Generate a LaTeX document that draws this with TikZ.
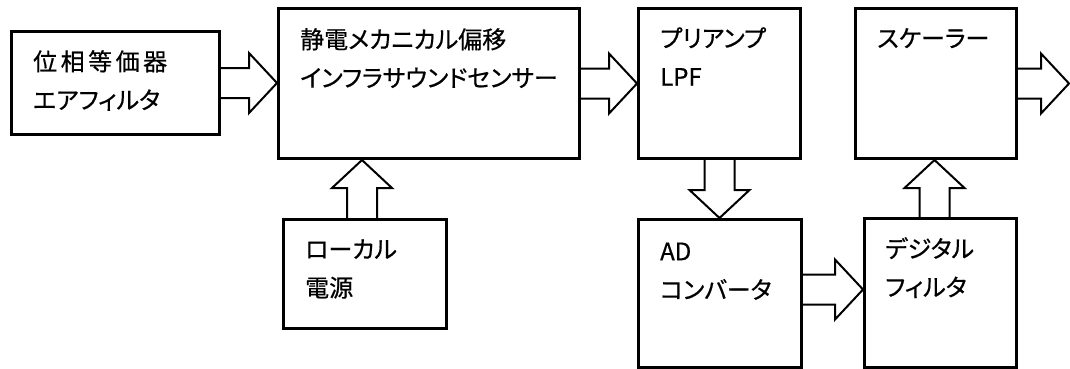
\documentclass[tikz,border=0pt]{standalone}
\usepackage{fontspec}
\newfontfamily\jp[RawFeature=+palt, FakeBold=0.6]{Noto Sans CJK JP}
\usetikzlibrary{calc}
\tikzset{
  box/.style={draw, line width=3pt, rectangle, inner sep=0pt, anchor=north west},
  txt/.style={font={\jp\fontsize{24}{38.5}\selectfont}, align=left, inner sep=0pt, anchor=north west},
  barrow/.style={draw, line width=2pt, line join=miter},
  barR/.style={to path={let \p1=(\tikztostart), \p2=(\tikztotarget) in
     (\x1,\y1+15pt) -- (\x2-28pt,\y1+15pt) -- (\x2-28pt,\y1+30pt) -- (\x2,\y1)
     -- (\x2-28pt,\y1-30pt) -- (\x2-28pt,\y1-15pt) -- (\x1,\y1-15pt)}},
  barU/.style={to path={let \p1=(\tikztostart), \p2=(\tikztotarget) in
     (\x1-15pt,\y1) -- (\x1-15pt,\y2-28pt) -- (\x1-30pt,\y2-28pt) -- (\x1,\y2)
     -- (\x1+30pt,\y2-28pt) -- (\x1+15pt,\y2-28pt) -- (\x1+15pt,\y1)}},
  barD/.style={to path={let \p1=(\tikztostart), \p2=(\tikztotarget) in
     (\x1-15pt,\y1) -- (\x1-15pt,\y2+28pt) -- (\x1-30pt,\y2+28pt) -- (\x1,\y2)
     -- (\x1+30pt,\y2+28pt) -- (\x1+15pt,\y2+28pt) -- (\x1+15pt,\y1)}},
}
\newcommand{\fstrut}{\rule{0pt}{20pt}}
\begin{document}
\begin{tikzpicture}[x=1pt,y=-1pt]
\useasboundingbox (0,0) rectangle (1070,368);
% boxes
\node[box, minimum width=208pt, minimum height=103pt] (b1) at (10,30) {};
\node[box, minimum width=301pt, minimum height=150pt] (b2) at (277,7) {};
\node[box, minimum width=162pt, minimum height=150pt] (b3) at (637,7) {};
\node[box, minimum width=161pt, minimum height=150pt] (b4) at (854,7) {};
\node[box, minimum width=163pt, minimum height=148pt] (b5) at (637,218) {};
\node[box, minimum width=152pt, minimum height=149pt] (b6) at (863,217) {};
\node[box, minimum width=163pt, minimum height=109pt] (b7) at (282,218) {};
\coordinate (out) at (1069,82);
% texts
\node[txt] (t1) at ([shift={(23pt,-20pt)}]b1.north west) {\fstrut 位\kern3.5pt 相\kern3.5pt 等\kern3.5pt 価\kern3.5pt 器\\エアフィルタ};
\node[txt] (t2) at ([shift={(23pt,-21pt)}]b2.north west) {\fstrut 静電メカニカル偏移\\インフラサウンドセンサー};
\node[txt] (t3) at ([shift={(23pt,-20pt)}]b3.north west) {\fstrut プリアンプ\\LPF};
\node[txt] (t4) at ([shift={(23pt,-20pt)}]b4.north west) {\fstrut スケーラー};
\node[txt] (t5) at ([shift={(23pt,-22pt)}]b5.north west) {\fstrut AD\\コンバータ};
\node[txt] (t6) at ([shift={(22pt,-20pt)}]b6.north west) {\fstrut デジタル\\フィルタ};
\node[txt] (t7) at ([shift={(23pt,-20pt)}]b7.north west) {\fstrut ローカル\\電源};
% block arrows
\draw[barrow] (b1.east) to[barR] (b2.west);
\draw[barrow] (b2.east) to[barR] (b3.west);
\draw[barrow] (b4.east) to[barR] (out);
\draw[barrow] (b3.south) to[barD] (b5.north);
\draw[barrow] ([yshift=4pt]b5.east) to[barR] ([yshift=4pt]b6.west);
\draw[barrow] ([xshift=-6pt]b6.north) to[barU] ([xshift=-6pt]b4.south);
\draw[barrow] ([xshift=-3pt]b7.north) to[barU] (b2.south);
\end{tikzpicture}
\end{document}
